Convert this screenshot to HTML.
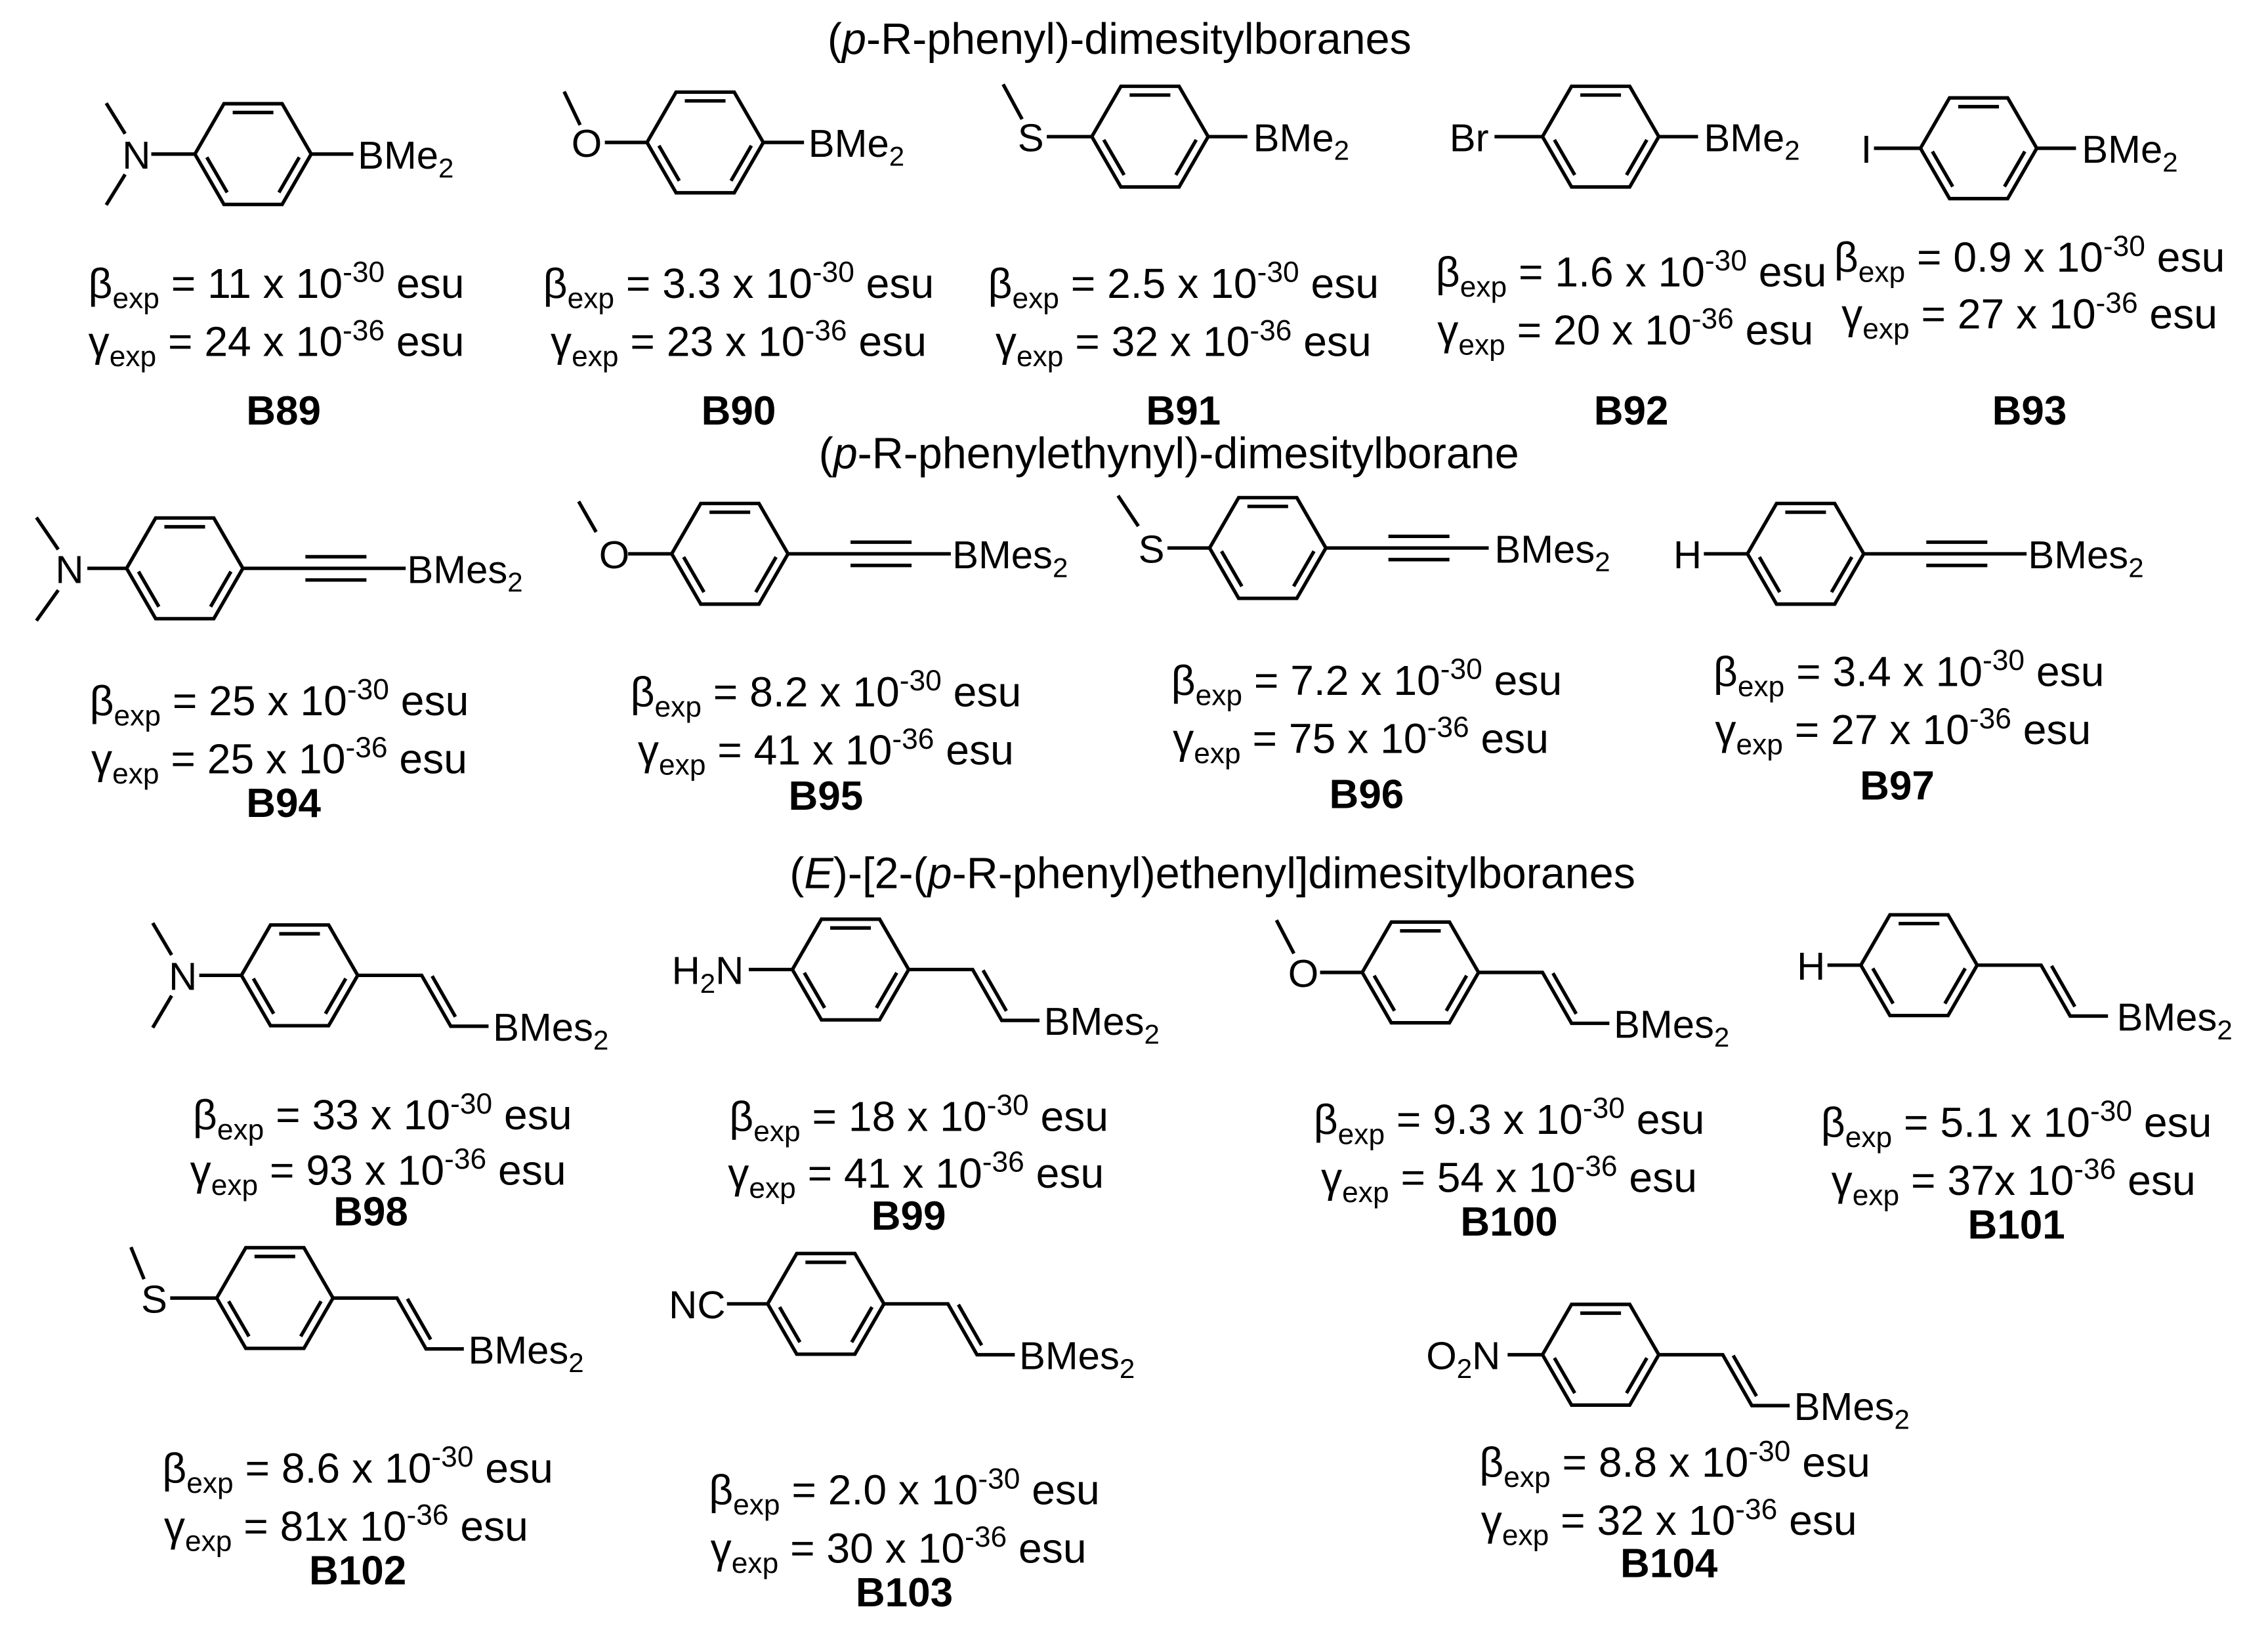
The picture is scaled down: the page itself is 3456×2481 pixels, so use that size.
<!DOCTYPE html>
<html><head><meta charset="utf-8"><style>
html,body{margin:0;padding:0;background:#fff;}
svg{display:block;}
text{font-family:"Liberation Sans",Arial,sans-serif;fill:#000;}
</style></head><body>
<svg width="3456" height="2481" viewBox="0 0 1560 1120" xmlns="http://www.w3.org/2000/svg">
<defs>
<g id="ring" fill="none" stroke="#000" stroke-width="2.4" stroke-linejoin="miter">
<path d="M-40,0 L-20,-34.64 L20,-34.64 L40,0 L20,34.64 L-20,34.64 Z"/>
<path d="M-14,-28.6 H14 M-31.8,2.2 L-17.8,26.4 M31.8,2.2 L17.8,26.4"/>
</g>
<g id="tri" fill="none" stroke="#000" stroke-width="2.4">
<path d="M0,0 H112 M43,-8 H85 M43,8 H85"/>
</g>
<g id="vin" fill="none" stroke="#000" stroke-width="2.4">
<path d="M0,0 H44 L64,35 H90 M51.2,0.5 L67.2,28.5"/>
</g>
</defs>
<g font-size="27">
<!-- headers -->
<g font-size="30">
<text x="770" y="37" text-anchor="middle">(<tspan font-style="italic">p</tspan>-R-phenyl)-dimesitylboranes</text>
<text x="804" y="322" text-anchor="middle">(<tspan font-style="italic">p</tspan>-R-phenylethynyl)-dimesitylborane</text>
<text x="834" y="611" text-anchor="middle">(<tspan font-style="italic">E</tspan>)-[2-(<tspan font-style="italic">p</tspan>-R-phenyl)ethenyl]dimesitylboranes</text>
</g>

<g fill="none" stroke="#000" stroke-width="2.4">
<path d="M73,71 L86,92 M86,120 L73,141 M104,106 H134 M214,106 H243"/>
<path d="M388,63 L399,86 M416,98 H445 M525,98 H553"/>
<path d="M690,58 L703,82 M720,94 H751 M831,94 H858"/>
<path d="M1028,94 H1061 M1141,94 H1168"/>
<path d="M1289,102 H1321 M1401,102 H1428"/>
<path d="M25,356 L40,378 M40,406 L25,427 M60,391 H87"/>
<path d="M398,345 L410,366 M432,381 H462"/>
<path d="M769,341 L783,362 M803,377 H832"/>
<path d="M1172,381 H1202"/>
<path d="M105,635 L118,657 M118,685 L105,707 M137,671 H166"/>
<path d="M515,667 H545"/>
<path d="M878,633 L890,656 M908,669 H937"/>
<path d="M1257,664 H1280"/>
<path d="M90,858 L99,880 M117,893 H149"/>
<path d="M500,897 H528"/>
<path d="M1037,932 H1061"/>
</g>

<use href="#ring" x="174" y="106"/>
<use href="#ring" x="485" y="98"/>
<use href="#ring" x="791" y="94"/>
<use href="#ring" x="1101" y="94"/>
<use href="#ring" x="1361" y="102"/>
<use href="#ring" x="127" y="391"/>
<use href="#ring" x="502" y="381"/>
<use href="#ring" x="872" y="377"/>
<use href="#ring" x="1242" y="381"/>
<use href="#ring" x="206" y="671"/>
<use href="#ring" x="585" y="667"/>
<use href="#ring" x="977" y="669"/>
<use href="#ring" x="1320" y="664"/>
<use href="#ring" x="189" y="893"/>
<use href="#ring" x="568" y="897"/>
<use href="#ring" x="1101" y="932"/>

<use href="#tri" x="167" y="391"/>
<use href="#tri" x="542" y="381"/>
<use href="#tri" x="912" y="377"/>
<use href="#tri" x="1282" y="381"/>

<use href="#vin" x="246" y="671"/>
<use href="#vin" x="625" y="667"/>
<use href="#vin" x="1017" y="669"/>
<use href="#vin" x="1360" y="664"/>
<use href="#vin" x="229" y="893"/>
<use href="#vin" x="608" y="897"/>
<use href="#vin" x="1141" y="932"/>

<text x="84" y="116">N</text>
<text x="246" y="116">BMe<tspan font-size="19" dy="6">2</tspan></text>
<text x="393" y="108">O</text>
<text x="556" y="108">BMe<tspan font-size="19" dy="6">2</tspan></text>
<text x="700" y="104">S</text>
<text x="862" y="104">BMe<tspan font-size="19" dy="6">2</tspan></text>
<text x="997" y="104">Br</text>
<text x="1172" y="104">BMe<tspan font-size="19" dy="6">2</tspan></text>
<text x="1280" y="112">I</text>
<text x="1432" y="112">BMe<tspan font-size="19" dy="6">2</tspan></text>
<text x="38" y="401">N</text>
<text x="280" y="401">BMes<tspan font-size="19" dy="6">2</tspan></text>
<text x="412" y="391">O</text>
<text x="655" y="391">BMes<tspan font-size="19" dy="6">2</tspan></text>
<text x="783" y="387">S</text>
<text x="1028" y="387">BMes<tspan font-size="19" dy="6">2</tspan></text>
<text x="1151" y="391">H</text>
<text x="1395" y="391">BMes<tspan font-size="19" dy="6">2</tspan></text>
<text x="116" y="681">N</text>
<text x="339" y="716">BMes<tspan font-size="19" dy="6">2</tspan></text>
<text x="462" y="677">H<tspan font-size="19" dy="6">2</tspan><tspan dy="-6">N</tspan></text>
<text x="718" y="712">BMes<tspan font-size="19" dy="6">2</tspan></text>
<text x="886" y="679">O</text>
<text x="1110" y="714">BMes<tspan font-size="19" dy="6">2</tspan></text>
<text x="1236" y="674">H</text>
<text x="1456" y="709">BMes<tspan font-size="19" dy="6">2</tspan></text>
<text x="97" y="903">S</text>
<text x="322" y="938">BMes<tspan font-size="19" dy="6">2</tspan></text>
<text x="460" y="907">NC</text>
<text x="701" y="942">BMes<tspan font-size="19" dy="6">2</tspan></text>
<text x="981" y="942">O<tspan font-size="19" dy="6">2</tspan><tspan dy="-6">N</tspan></text>
<text x="1234" y="977">BMes<tspan font-size="19" dy="6">2</tspan></text>

<g text-anchor="middle" font-size="29">
<text x="190" y="205">β<tspan font-size="20" dy="7">exp</tspan><tspan dy="-7"> = 11 x 10</tspan><tspan font-size="20" dy="-11">-30</tspan><tspan dy="11"> esu</tspan></text>
<text x="190" y="245">γ<tspan font-size="20" dy="7">exp</tspan><tspan dy="-7"> = 24 x 10</tspan><tspan font-size="20" dy="-11">-36</tspan><tspan dy="11"> esu</tspan></text>
<text x="508" y="205">β<tspan font-size="20" dy="7">exp</tspan><tspan dy="-7"> = 3.3 x 10</tspan><tspan font-size="20" dy="-11">-30</tspan><tspan dy="11"> esu</tspan></text>
<text x="508" y="245">γ<tspan font-size="20" dy="7">exp</tspan><tspan dy="-7"> = 23 x 10</tspan><tspan font-size="20" dy="-11">-36</tspan><tspan dy="11"> esu</tspan></text>
<text x="814" y="205">β<tspan font-size="20" dy="7">exp</tspan><tspan dy="-7"> = 2.5 x 10</tspan><tspan font-size="20" dy="-11">-30</tspan><tspan dy="11"> esu</tspan></text>
<text x="814" y="245">γ<tspan font-size="20" dy="7">exp</tspan><tspan dy="-7"> = 32 x 10</tspan><tspan font-size="20" dy="-11">-36</tspan><tspan dy="11"> esu</tspan></text>
<text x="1122" y="197">β<tspan font-size="20" dy="7">exp</tspan><tspan dy="-7"> = 1.6 x 10</tspan><tspan font-size="20" dy="-11">-30</tspan><tspan dy="11"> esu</tspan></text>
<text x="1118" y="237">γ<tspan font-size="20" dy="7">exp</tspan><tspan dy="-7"> = 20 x 10</tspan><tspan font-size="20" dy="-11">-36</tspan><tspan dy="11"> esu</tspan></text>
<text x="1396" y="187">β<tspan font-size="20" dy="7">exp</tspan><tspan dy="-7"> = 0.9 x 10</tspan><tspan font-size="20" dy="-11">-30</tspan><tspan dy="11"> esu</tspan></text>
<text x="1396" y="226">γ<tspan font-size="20" dy="7">exp</tspan><tspan dy="-7"> = 27 x 10</tspan><tspan font-size="20" dy="-11">-36</tspan><tspan dy="11"> esu</tspan></text>

<text x="192" y="492">β<tspan font-size="20" dy="7">exp</tspan><tspan dy="-7"> = 25 x 10</tspan><tspan font-size="20" dy="-11">-30</tspan><tspan dy="11"> esu</tspan></text>
<text x="192" y="532">γ<tspan font-size="20" dy="7">exp</tspan><tspan dy="-7"> = 25 x 10</tspan><tspan font-size="20" dy="-11">-36</tspan><tspan dy="11"> esu</tspan></text>
<text x="568" y="486">β<tspan font-size="20" dy="7">exp</tspan><tspan dy="-7"> = 8.2 x 10</tspan><tspan font-size="20" dy="-11">-30</tspan><tspan dy="11"> esu</tspan></text>
<text x="568" y="526">γ<tspan font-size="20" dy="7">exp</tspan><tspan dy="-7"> = 41 x 10</tspan><tspan font-size="20" dy="-11">-36</tspan><tspan dy="11"> esu</tspan></text>
<text x="940" y="478">β<tspan font-size="20" dy="7">exp</tspan><tspan dy="-7"> = 7.2 x 10</tspan><tspan font-size="20" dy="-11">-30</tspan><tspan dy="11"> esu</tspan></text>
<text x="936" y="518">γ<tspan font-size="20" dy="7">exp</tspan><tspan dy="-7"> = 75 x 10</tspan><tspan font-size="20" dy="-11">-36</tspan><tspan dy="11"> esu</tspan></text>
<text x="1313" y="472">β<tspan font-size="20" dy="7">exp</tspan><tspan dy="-7"> = 3.4 x 10</tspan><tspan font-size="20" dy="-11">-30</tspan><tspan dy="11"> esu</tspan></text>
<text x="1309" y="512">γ<tspan font-size="20" dy="7">exp</tspan><tspan dy="-7"> = 27 x 10</tspan><tspan font-size="20" dy="-11">-36</tspan><tspan dy="11"> esu</tspan></text>

<text x="263" y="777">β<tspan font-size="20" dy="7">exp</tspan><tspan dy="-7"> = 33 x 10</tspan><tspan font-size="20" dy="-11">-30</tspan><tspan dy="11"> esu</tspan></text>
<text x="260" y="815">γ<tspan font-size="20" dy="7">exp</tspan><tspan dy="-7"> = 93 x 10</tspan><tspan font-size="20" dy="-11">-36</tspan><tspan dy="11"> esu</tspan></text>
<text x="632" y="778">β<tspan font-size="20" dy="7">exp</tspan><tspan dy="-7"> = 18 x 10</tspan><tspan font-size="20" dy="-11">-30</tspan><tspan dy="11"> esu</tspan></text>
<text x="630" y="817">γ<tspan font-size="20" dy="7">exp</tspan><tspan dy="-7"> = 41 x 10</tspan><tspan font-size="20" dy="-11">-36</tspan><tspan dy="11"> esu</tspan></text>
<text x="1038" y="780">β<tspan font-size="20" dy="7">exp</tspan><tspan dy="-7"> = 9.3 x 10</tspan><tspan font-size="20" dy="-11">-30</tspan><tspan dy="11"> esu</tspan></text>
<text x="1038" y="820">γ<tspan font-size="20" dy="7">exp</tspan><tspan dy="-7"> = 54 x 10</tspan><tspan font-size="20" dy="-11">-36</tspan><tspan dy="11"> esu</tspan></text>
<text x="1387" y="782">β<tspan font-size="20" dy="7">exp</tspan><tspan dy="-7"> = 5.1 x 10</tspan><tspan font-size="20" dy="-11">-30</tspan><tspan dy="11"> esu</tspan></text>
<text x="1385" y="822">γ<tspan font-size="20" dy="7">exp</tspan><tspan dy="-7"> = 37x 10</tspan><tspan font-size="20" dy="-11">-36</tspan><tspan dy="11"> esu</tspan></text>

<text x="246" y="1020">β<tspan font-size="20" dy="7">exp</tspan><tspan dy="-7"> = 8.6 x 10</tspan><tspan font-size="20" dy="-11">-30</tspan><tspan dy="11"> esu</tspan></text>
<text x="238" y="1060">γ<tspan font-size="20" dy="7">exp</tspan><tspan dy="-7"> = 81x 10</tspan><tspan font-size="20" dy="-11">-36</tspan><tspan dy="11"> esu</tspan></text>
<text x="622" y="1035">β<tspan font-size="20" dy="7">exp</tspan><tspan dy="-7"> = 2.0 x 10</tspan><tspan font-size="20" dy="-11">-30</tspan><tspan dy="11"> esu</tspan></text>
<text x="618" y="1075">γ<tspan font-size="20" dy="7">exp</tspan><tspan dy="-7"> = 30 x 10</tspan><tspan font-size="20" dy="-11">-36</tspan><tspan dy="11"> esu</tspan></text>
<text x="1152" y="1016">β<tspan font-size="20" dy="7">exp</tspan><tspan dy="-7"> = 8.8 x 10</tspan><tspan font-size="20" dy="-11">-30</tspan><tspan dy="11"> esu</tspan></text>
<text x="1148" y="1056">γ<tspan font-size="20" dy="7">exp</tspan><tspan dy="-7"> = 32 x 10</tspan><tspan font-size="20" dy="-11">-36</tspan><tspan dy="11"> esu</tspan></text>
</g>

<g text-anchor="middle" font-weight="bold" font-size="28">
<text x="195" y="292">B89</text>
<text x="508" y="292">B90</text>
<text x="814" y="292">B91</text>
<text x="1122" y="292">B92</text>
<text x="1396" y="292">B93</text>
<text x="195" y="562">B94</text>
<text x="568" y="557">B95</text>
<text x="940" y="556">B96</text>
<text x="1305" y="550">B97</text>
<text x="255" y="843">B98</text>
<text x="625" y="846">B99</text>
<text x="1038" y="850">B100</text>
<text x="1387" y="852">B101</text>
<text x="246" y="1090">B102</text>
<text x="622" y="1105">B103</text>
<text x="1148" y="1085">B104</text>
</g>
</g>
</svg>
</body></html>
